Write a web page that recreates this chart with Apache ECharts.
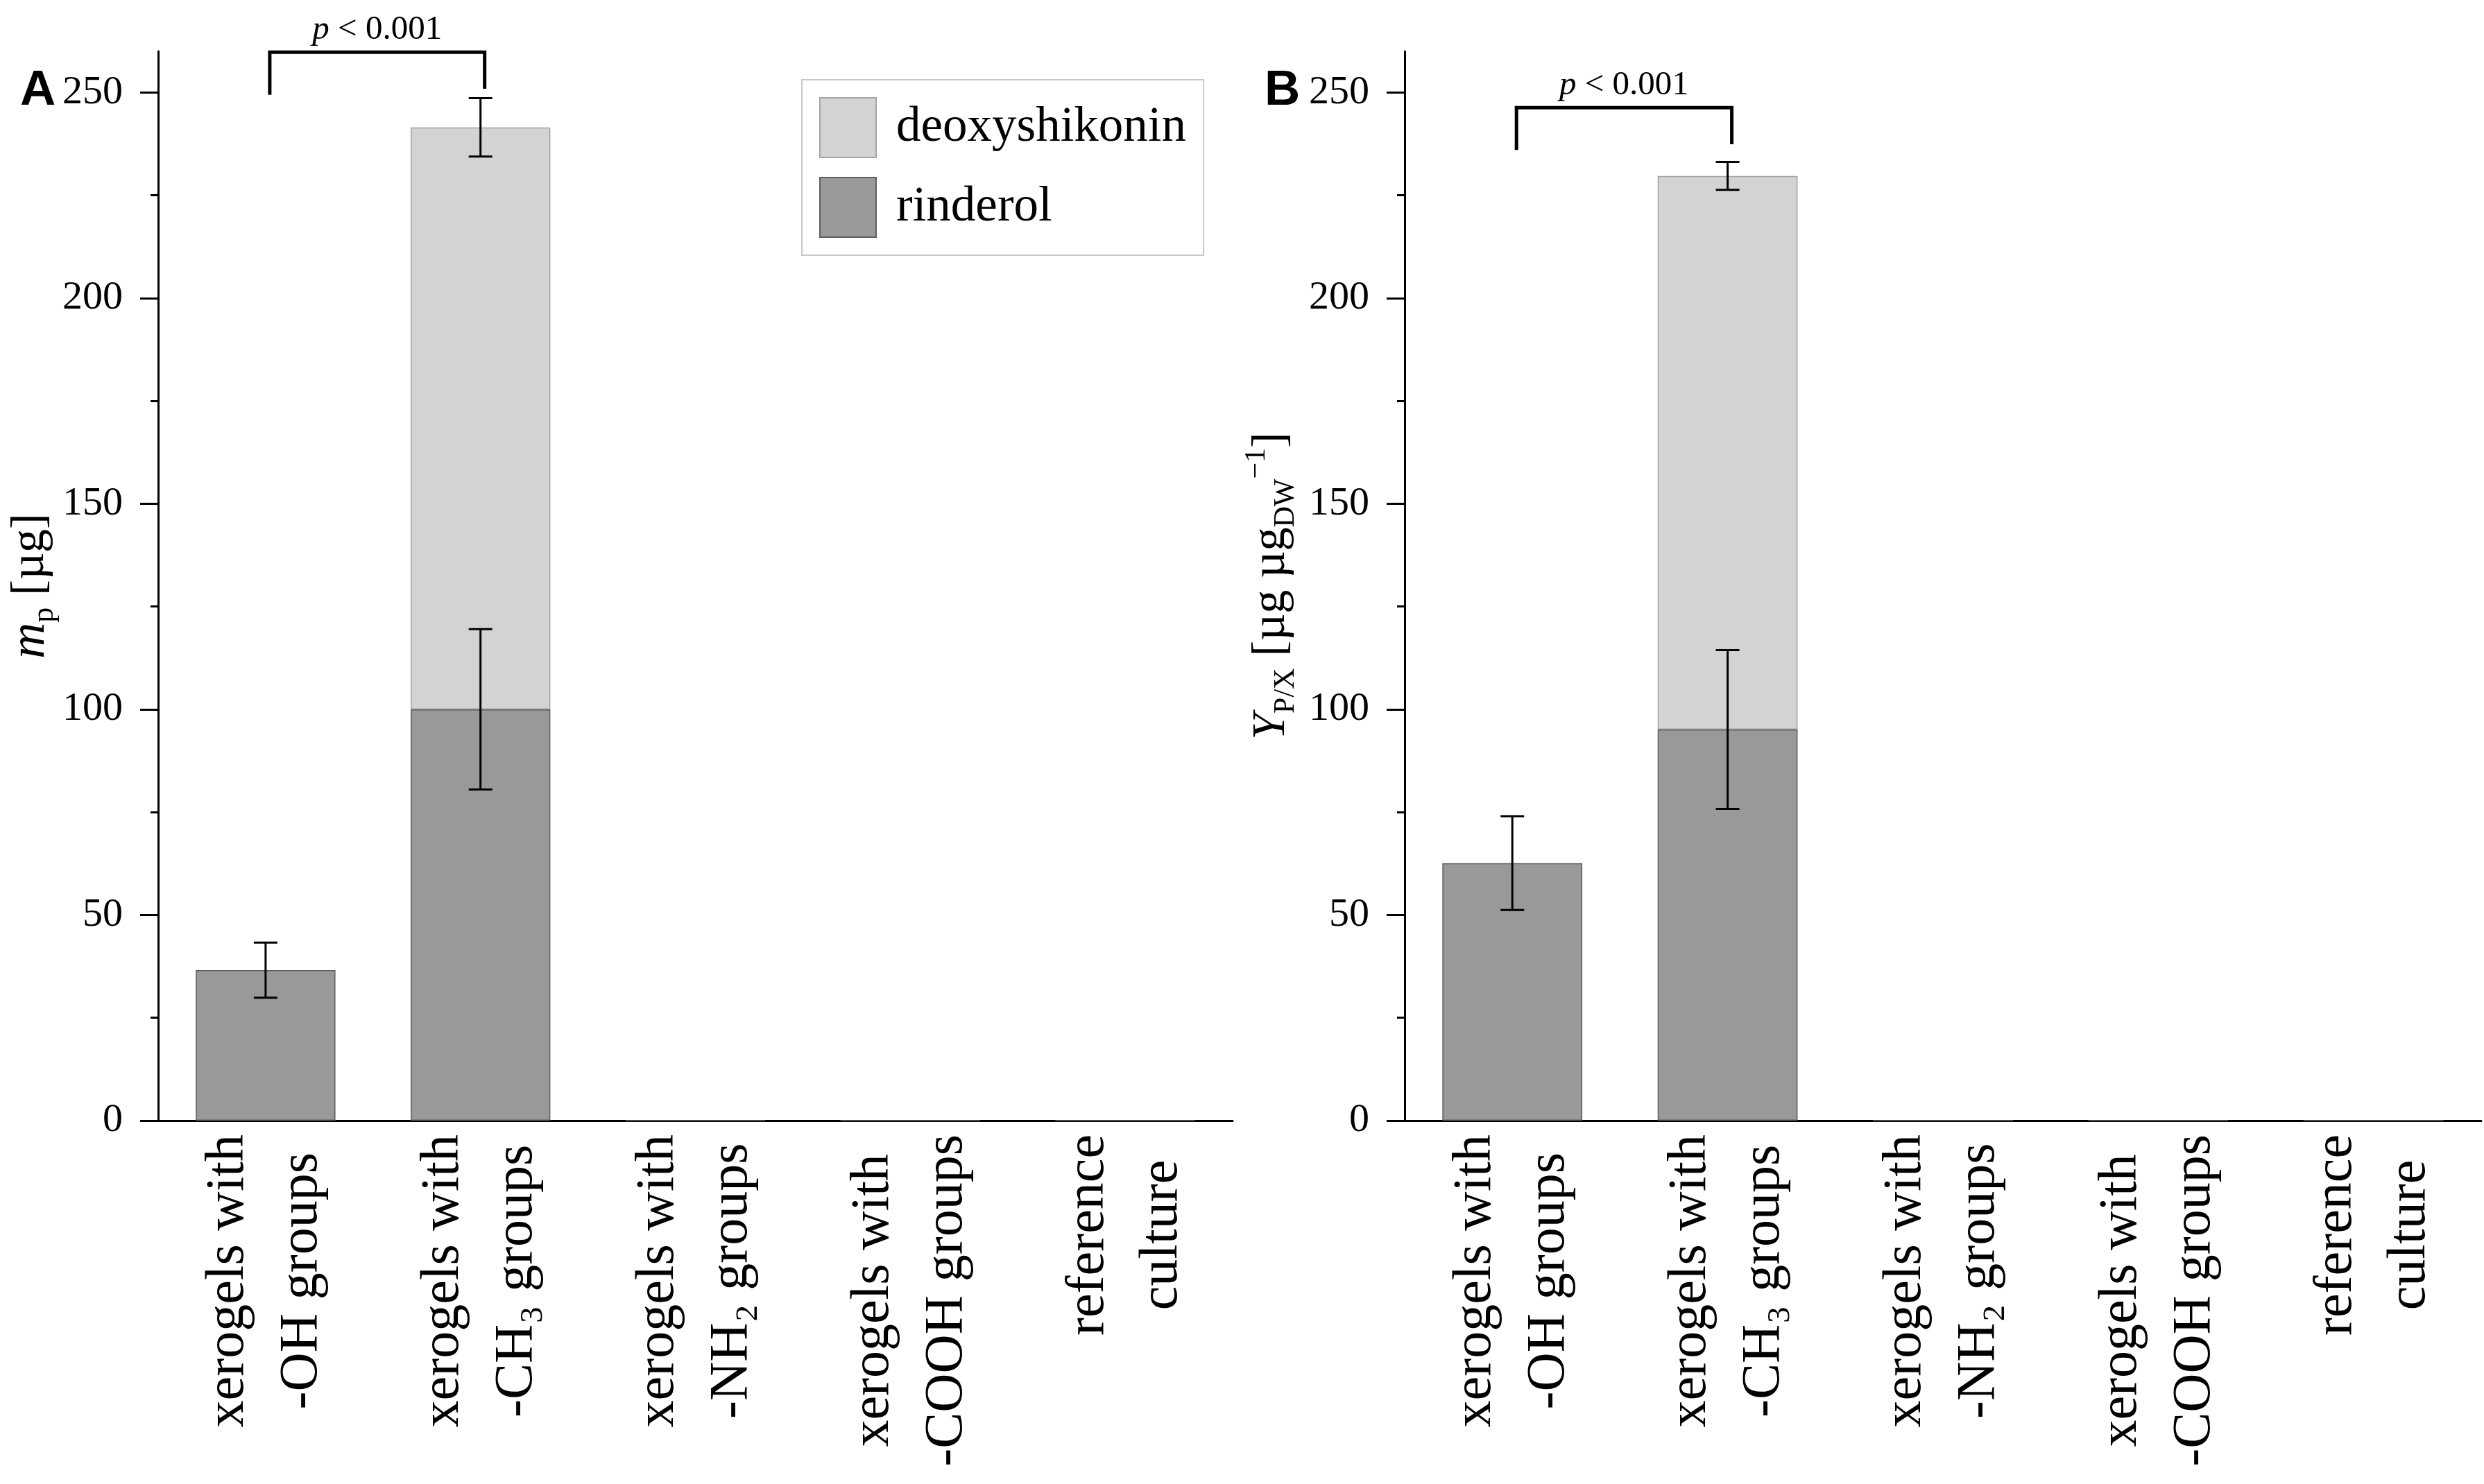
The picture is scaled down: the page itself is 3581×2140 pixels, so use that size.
<!DOCTYPE html>
<html>
<head>
<meta charset="utf-8">
<script src="https://cdn.jsdelivr.net/npm/echarts@6/dist/echarts.min.js"></script>
<style>
html,body{margin:0;padding:0;background:#fff;}
#chart{width:3581px;height:2140px;}
</style>
</head>
<body>
<div id="chart"></div>
<script>
// ---------- data ----------
const categories = [
  'xerogels with\n-OH groups',
  'xerogels with\n-CH\u2083 groups',
  'xerogels with\n-NH\u2082 groups',
  'xerogels with\n-COOH groups',
  'reference\nculture'
];
const yTicks = [0, 50, 100, 150, 200, 250];
const yMinorTicks = [25, 75, 125, 175, 225];

// Panel A: m_p [µg]
const rinderolA = [36.6, 100.0, 0, 0, 0];
const deoxyA = ['-', 141.5, '-', '-', '-'];
const rinderolErrA = [6.7, 19.5, 0, 0, 0];
const deoxyErrA = [0, 7.1, 0, 0, 0];
const bracketA = [0, 1, 249.4, 259.8, 250.9];

// Panel B: Y_P/X [µg µg_DW^-1]
const rinderolB = [62.6, 95.1, 0, 0, 0];
const deoxyB = ['-', 134.6, '-', '-', '-'];
const rinderolErrB = [11.4, 19.3, 0, 0, 0];
const deoxyErrB = [0, 3.4, 0, 0, 0];
const bracketB = [0, 1, 236.0, 246.3, 237.4];

const pLabel = '{i|p} < 0.001';

// ---------- helpers ----------
const SERIF = 'Liberation Serif';
const SANS = 'Liberation Sans';
const num = v => (v === '-' || v == null) ? 0 : v;

function errData(rind, deoxy, rErr, dErr) {
  const out = [];
  rind.forEach((v, i) => {
    if (rErr[i] > 0) out.push([i, num(v), rErr[i]]);
    if (dErr[i] > 0) out.push([i, num(v) + num(deoxy[i]), dErr[i]]);
  });
  return out;
}

function errRender(params, api) {
  const x = api.value(0), y = api.value(1), e = api.value(2);
  const top = api.coord([x, y + e]);
  const bot = api.coord([x, y - e]);
  const hw = 17;
  const st = {stroke: '#000', lineWidth: 3};
  return {type: 'group', children: [
    {type: 'line', shape: {x1: top[0], y1: top[1], x2: bot[0], y2: bot[1]}, style: st},
    {type: 'line', shape: {x1: top[0] - hw, y1: top[1], x2: top[0] + hw, y2: top[1]}, style: st},
    {type: 'line', shape: {x1: bot[0] - hw, y1: bot[1], x2: bot[0] + hw, y2: bot[1]}, style: st}
  ]};
}

function bracketRender(params, api) {
  const x1 = api.value(0), x2 = api.value(1);
  const yl = api.value(2), yt = api.value(3), yr = api.value(4);
  const p1 = api.coord([x1, yl]), p2 = api.coord([x1, yt]);
  const p3 = api.coord([x2, yt]), p4 = api.coord([x2, yr]);
  const dx = 6;
  return {type: 'group', children: [
    {type: 'polyline', shape: {points: [[p1[0] + dx, p1[1]], [p2[0] + dx, p2[1]], [p3[0] + dx, p3[1]], [p4[0] + dx, p4[1]]]},
     style: {stroke: '#000', lineWidth: 5, fill: null, lineJoin: 'miter'}},
    {type: 'text', style: {
      text: pLabel, x: (p2[0] + p3[0]) / 2 + dx, y: p2[1] - 8,
      align: 'center', verticalAlign: 'bottom',
      fontFamily: SERIF, fontSize: 49, fill: '#000',
      rich: {
        i: {fontStyle: 'italic', fontFamily: SERIF, fontSize: 49, fill: '#000'}
      }
    }}
  ]};
}

function xAxisCfg(gi) {
  return {
    type: 'category', gridIndex: gi, data: categories,
    axisLine: {lineStyle: {color: '#000', width: 3}},
    axisTick: {show: false},
    axisLabel: {
      rotate: 90, interval: 0, margin: 20, color: '#000', fontFamily: SERIF, fontSize: 78,
      formatter: v => v.split('\n').map(s => '{c|' + s + '}').join('\n'),
      rich: {c: {align: 'center', fontFamily: SERIF, fontSize: 78, lineHeight: 106, color: '#000'}}
    }
  };
}

function yAxisCfg(gi, name, nameGap, rich) {
  return {
    type: 'value', gridIndex: gi, min: 0, max: 260, interval: 50,
    name: name, nameLocation: 'middle', nameGap: nameGap,
    nameTextStyle: {color: '#000', fontFamily: SERIF, fontSize: 68, rich: rich},
    axisLine: {show: true, lineStyle: {color: '#000', width: 3}},
    axisTick: {show: true, length: 26, lineStyle: {color: '#000', width: 3}, customValues: yTicks},
    axisLabel: {
      color: '#000', fontFamily: SERIF, fontSize: 58, margin: 51, customValues: yTicks
    },
    splitLine: {show: false}
  };
}
function yMinorCfg(gi) {
  return {
    type: 'value', gridIndex: gi, min: 0, max: 260, interval: 50, position: 'left',
    axisLine: {show: false},
    axisTick: {show: true, length: 11, lineStyle: {color: '#000', width: 3}, customValues: yMinorTicks},
    axisLabel: {show: false},
    splitLine: {show: false}
  };
}

const nameRichA = {
  i: {fontStyle: 'italic', fontFamily: SERIF, fontSize: 72, lineHeight: 84, verticalAlign: 'middle', color: '#000'},
  s: {fontFamily: SERIF, fontSize: 44, verticalAlign: 'bottom', color: '#000'},
  n: {fontFamily: SERIF, fontSize: 68, verticalAlign: 'middle', color: '#000'}
};
const nameRichB = {
  i: {fontStyle: 'italic', fontFamily: SERIF, fontSize: 68, lineHeight: 84, verticalAlign: 'middle', color: '#000'},
  s: {fontFamily: SERIF, fontSize: 42, verticalAlign: 'bottom', color: '#000'},
  u: {fontFamily: SERIF, fontSize: 42, verticalAlign: 'top', color: '#000'},
  n: {fontFamily: SERIF, fontSize: 68, verticalAlign: 'middle', color: '#000'}
};

const rindStyle = {color: '#999999', borderColor: '#5e5e5e', borderWidth: 1.5};
const deoxyStyle = {color: '#d3d3d3', borderColor: '#a4a4a4', borderWidth: 1.5};

function barSeries(gi, rind, deoxy) {
  return [
    {name: 'rinderol', type: 'bar', xAxisIndex: gi, yAxisIndex: gi * 2, stack: 's' + gi,
     data: rind, barWidth: '65%', itemStyle: rindStyle, emphasis: {disabled: true}},
    {name: 'deoxyshikonin', type: 'bar', xAxisIndex: gi, yAxisIndex: gi * 2, stack: 's' + gi,
     data: deoxy, barWidth: '65%', itemStyle: deoxyStyle, emphasis: {disabled: true}}
  ];
}

const chart = echarts.init(document.getElementById('chart'), null, {renderer: 'canvas'});
const option = {
  animation: false,
  backgroundColor: '#fff',
  textStyle: {fontFamily: SERIF, color: '#000'},
  title: [
    {text: 'A', left: 24, top: 91, textStyle: {fontFamily: SANS, fontWeight: 'bold', fontSize: 71, color: '#000'}},
    {text: 'B', left: 1818, top: 91, textStyle: {fontFamily: SANS, fontWeight: 'bold', fontSize: 71, color: '#000'}}
  ],
  legend: {
    data: ['deoxyshikonin', 'rinderol'],
    orient: 'vertical', left: 1156, top: 115,
    icon: 'rect',
    itemWidth: 81, itemHeight: 86, itemGap: 27,
    padding: [25, 25, 25, 25],
    backgroundColor: '#fff', borderColor: '#c8c8c8', borderWidth: 2,
    formatter: '{t|{name}}',
    textStyle: {fontFamily: SERIF, fontSize: 71, color: '#000',
      rich: {t: {fontFamily: SERIF, fontSize: 71, color: '#000', padding: [0, 0, 0, 24]}}},
    selectedMode: false
  },
  grid: [
    {left: 228, right: 1804, top: 74, bottom: 524, outerBoundsMode: 'none'},
    {left: 2025, right: 4, top: 74, bottom: 524, outerBoundsMode: 'none'}
  ],
  xAxis: [xAxisCfg(0), xAxisCfg(1)],
  yAxis: [
    yAxisCfg(0, '{i|m}{s|p} {n|[µg]}', 140, nameRichA),
    yMinorCfg(0),
    yAxisCfg(1, '{i|Y}{s|P/X} {n|[µg µg}{s|DW}{u|\u22121}{n|]}', 150, nameRichB),
    yMinorCfg(1)
  ],
  series: [
    ...barSeries(0, rinderolA, deoxyA),
    ...barSeries(1, rinderolB, deoxyB),
    {type: 'custom', xAxisIndex: 0, yAxisIndex: 0, z: 10, renderItem: errRender,
     data: errData(rinderolA, deoxyA, rinderolErrA, deoxyErrA), encode: {x: 0, y: 1}},
    {type: 'custom', xAxisIndex: 1, yAxisIndex: 2, z: 10, renderItem: errRender,
     data: errData(rinderolB, deoxyB, rinderolErrB, deoxyErrB), encode: {x: 0, y: 1}},
    {type: 'custom', xAxisIndex: 0, yAxisIndex: 0, z: 10, renderItem: bracketRender,
     data: [bracketA], encode: {x: [0, 1], y: [2, 3, 4]}, clip: false},
    {type: 'custom', xAxisIndex: 1, yAxisIndex: 2, z: 10, renderItem: bracketRender,
     data: [bracketB], encode: {x: [0, 1], y: [2, 3, 4]}, clip: false}
  ]
};
chart.setOption(option);
</script>
</body>
</html>
